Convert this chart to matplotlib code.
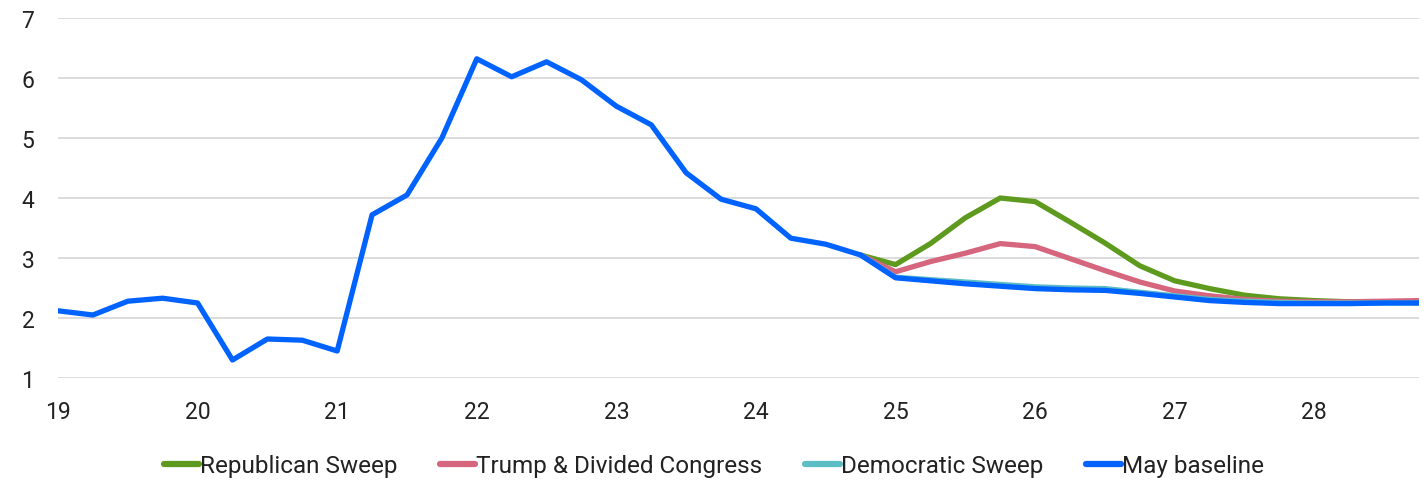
import matplotlib
matplotlib.use("Agg")
import matplotlib.pyplot as plt
import numpy as np

# Quarterly x positions (year - 2000)
quarters = [19 + 0.25 * i for i in range(40)]

baseline = [2.12, 2.05, 2.28, 2.33, 2.25, 1.30, 1.65, 1.63, 1.45, 3.72,
            4.05, 5.00, 6.32, 6.02, 6.27, 5.97, 5.53, 5.22, 4.42, 3.98,
            3.82, 3.33, 3.23, 3.05, 2.67, 2.62, 2.57, 2.53, 2.49, 2.47,
            2.46, 2.41, 2.35, 2.29, 2.26, 2.24, 2.24, 2.24, 2.25, 2.25]

# Scenarios from 24.75 onward
scen_x = quarters[23:]
republican = [3.05, 2.89, 3.24, 3.67, 4.00, 3.94, 3.60, 3.25, 2.87, 2.62,
              2.49, 2.38, 2.32, 2.29, 2.27, 2.27, 2.27]
trump_divided = [3.05, 2.77, 2.94, 3.08, 3.24, 3.19, 2.99, 2.79, 2.60, 2.45,
                 2.37, 2.31, 2.28, 2.27, 2.27, 2.28, 2.29]
democratic = [3.05, 2.68, 2.64, 2.60, 2.56, 2.52, 2.50, 2.49, 2.43, 2.37,
              2.31, 2.28, 2.26, 2.25, 2.25, 2.25, 2.25]

labels = ["Republican Sweep", "Trump & Divided Congress", "Democratic Sweep", "May baseline"]
colors = ["#5E9A1E", "#D6657E", "#5DBDC4", "#0062FF"]

plt.rcParams['font.family'] = ['Roboto', 'DejaVu Sans']

fig = plt.figure(figsize=(14.28, 4.81), dpi=100)
ax = fig.add_axes([58 / 1428, 1 - 379 / 481, (1419 - 58) / 1428, (379 - 19) / 481])

lw = 3.8
ax.plot(scen_x, republican, color=colors[0], lw=lw, label=labels[0], solid_capstyle='round', zorder=3)
ax.plot(scen_x, trump_divided, color=colors[1], lw=lw, label=labels[1], solid_capstyle='round', zorder=4)
ax.plot(scen_x, democratic, color=colors[2], lw=lw, label=labels[2], solid_capstyle='round', zorder=5)
ax.plot(quarters, baseline, color=colors[3], lw=lw, label=labels[3], solid_capstyle='round', zorder=6)

ax.set_xlim(19, 28.75)
ax.set_ylim(1, 7)
ax.set_yticks(range(1, 8))
ax.set_xticks(range(19, 29))
ax.set_xticklabels([str(v) for v in range(19, 29)])
ax.grid(axis='y', color='#D9D9D9', lw=1.3, zorder=0)
ax.grid(axis='x', visible=False)
for s in ax.spines.values():
    s.set_visible(False)
ax.tick_params(axis='both', length=0, labelsize=16.5, colors='#222222')
ax.tick_params(axis='y', pad=17)
ax.tick_params(axis='x', pad=16)
ax.set_axisbelow(True)

leg = fig.legend(loc='center', bbox_to_anchor=(0.5, 1 - 467 / 481), ncol=4, frameon=False,
                 fontsize=17.5, handlelength=1.44, handletextpad=0.05, columnspacing=1.75,
                 labelcolor='#222222')
for h in leg.legend_handles:
    h.set_linewidth(4.5)
    h.set_solid_capstyle('round')

fig.savefig("out.png", dpi=100)
